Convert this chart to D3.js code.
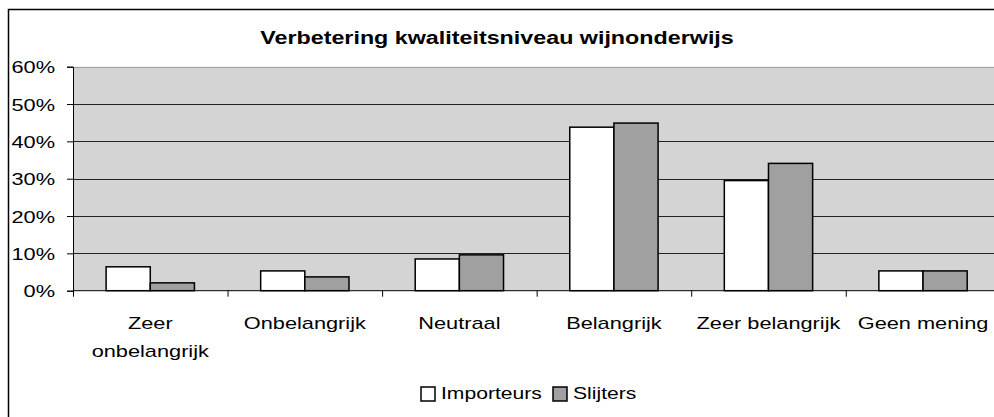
<!DOCTYPE html>
<html>
<head>
<meta charset="utf-8">
<script src="https://cdn.jsdelivr.net/npm/d3@7"></script>
<style>
  html, body { margin: 0; padding: 0; background: #fff; }
  svg { display: block; font-family: "Liberation Sans", Arial, sans-serif; }
</style>
</head>
<body>
<svg id="chart" width="994" height="417"></svg>
<script>
const title = "Verbetering kwaliteitsniveau wijnonderwijs";
const categories = [["Zeer", "onbelangrijk"], ["Onbelangrijk"], ["Neutraal"], ["Belangrijk"], ["Zeer belangrijk"], ["Geen mening"]];
const seriesNames = ["Importeurs", "Slijters"];
const importeurs = [0.064, 0.053, 0.085, 0.438, 0.295, 0.053];
const slijters   = [0.021, 0.037, 0.096, 0.449, 0.341, 0.053];
const yTicks = [0, 0.1, 0.2, 0.3, 0.4, 0.5, 0.6];
const seriesColors = ["#ffffff", "#a0a0a0"];

const SX = 1.28; // horizontal stretch of the text in the original
const svg = d3.select("#chart");
const plot = { left: 73, top: 66.7, right: 1000.3, bottom: 290.7 };

function stretchedText(sel, x, y, anchor) {
  return sel.attr("x", 0).attr("y", 0)
    .attr("text-anchor", anchor)
    .attr("transform", `translate(${x},${y}) scale(${SX},1)`);
}

// Outer chart border (cropped at right/bottom)
svg.append("rect")
  .attr("x", 8.5).attr("y", 9.5).attr("width", 1100).attr("height", 500)
  .attr("fill", "#fff").attr("stroke", "#000").attr("stroke-width", 1.5);

// Title
stretchedText(svg.append("text"), 497, 44, "middle")
  .attr("font-weight", "bold").attr("font-size", 18.2)
  .text(title);

const y = d3.scaleLinear().domain([0, 0.6]).range([plot.bottom, plot.top]);
const x0 = d3.scaleBand().domain(d3.range(categories.length))
  .range([plot.left, plot.right]).paddingInner(0).paddingOuter(0);
const x1 = d3.scaleBand().domain(d3.range(seriesNames.length))
  .range([0, x0.bandwidth()]).paddingOuter(0.75).paddingInner(0);

// Plot background
svg.append("rect")
  .attr("x", plot.left).attr("y", plot.top)
  .attr("width", plot.right - plot.left).attr("height", plot.bottom - plot.top)
  .attr("fill", "#d4d4d4");

// Gridlines
svg.append("g").selectAll("line").data(yTicks.filter(d => d > 0)).join("line")
  .attr("x1", plot.left).attr("x2", plot.right)
  .attr("y1", d => Math.round(y(d)) + 0.5).attr("y2", d => Math.round(y(d)) + 0.5)
  .attr("stroke", d => d === 0.6 ? "#a0a0a0" : "#222").attr("stroke-width", 1);

// Bars
const data = [importeurs, slijters];
const groups = svg.append("g").selectAll("g").data(categories).join("g")
  .attr("transform", (d, i) => `translate(${x0(i)},0)`);
groups.selectAll("rect").data((d, i) => data.map((s, j) => ({ j, v: s[i] }))).join("rect")
  .attr("x", d => x1(d.j))
  .attr("width", x1.bandwidth())
  .attr("y", d => y(d.v))
  .attr("height", d => y(0) - y(d.v))
  .attr("fill", d => seriesColors[d.j])
  .attr("stroke", "#000").attr("stroke-width", 1.5);

// Y axis
const yAxis = d3.axisLeft(y).tickValues(yTicks).tickFormat(d3.format(".0%")).tickSize(6);
const gy = svg.append("g").attr("transform", `translate(${plot.left},0)`).call(yAxis);
gy.selectAll("line, path").attr("stroke", "#000");
gy.selectAll(".tick text").each(function() {
  stretchedText(d3.select(this), -18, 6, "end")
    .attr("dy", null)
    .attr("font-size", 17).attr("fill", "#000")
    .attr("font-family", "Liberation Sans, Arial, sans-serif");
});

// X axis
const xAxis = d3.axisBottom(d3.scaleLinear().domain([0, categories.length]).range([plot.left, plot.right]))
  .tickValues(d3.range(categories.length + 1)).tickSize(6).tickFormat("");
const gx = svg.append("g").attr("transform", `translate(0,${plot.bottom})`).call(xAxis);
gx.selectAll("line, path").attr("stroke", "#000");
gx.select(".domain").attr("d", `M${plot.left},0H${plot.right}`);

// Category labels
svg.append("g").selectAll("text").data(categories).join("text")
  .each(function(d, i) {
    const t = stretchedText(d3.select(this), x0(i) + x0.bandwidth() / 2, 329, "middle")
      .attr("font-size", 17);
    t.selectAll("tspan").data(d).join("tspan")
      .attr("x", 0)
      .attr("dy", (s, k) => k === 0 ? 0 : 28)
      .text(s => s);
  });

// Legend
const legend = svg.append("g");
const legendItems = [{ x: 421, name: seriesNames[0], c: seriesColors[0] }, { x: 553, name: seriesNames[1], c: seriesColors[1] }];
legendItems.forEach(it => {
  legend.append("rect").attr("x", it.x).attr("y", 387).attr("width", 14).attr("height", 14)
    .attr("fill", it.c).attr("stroke", "#000").attr("stroke-width", 1.5);
  stretchedText(legend.append("text"), it.x + 20, 398.5, "start").attr("font-size", 16.5).text(it.name);
});
</script>
</body>
</html>
